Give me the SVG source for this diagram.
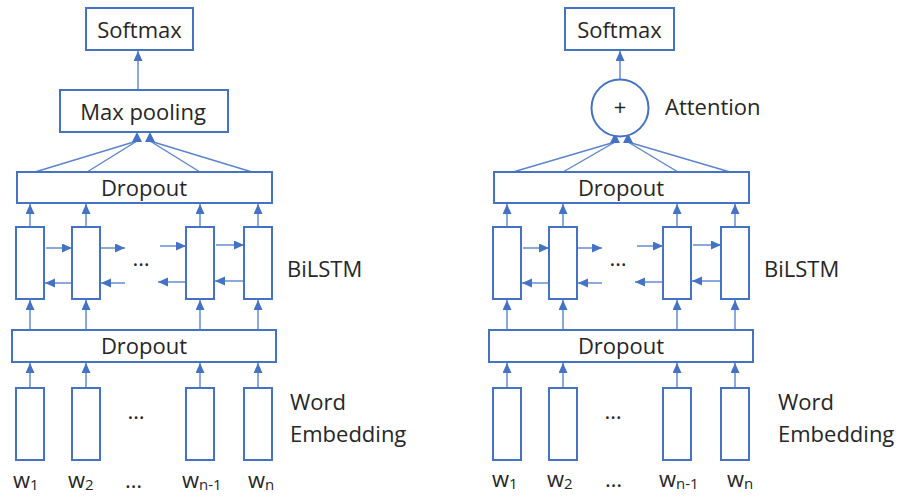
<svg xmlns="http://www.w3.org/2000/svg" width="898" height="499" viewBox="0 0 898 499">
<style>
.box{fill:#fff;stroke:#4472C4;stroke-width:2}
.cell{fill:#fff;stroke:#4472C4;stroke-width:2}
.c{stroke:#5B84CE;stroke-width:1.4;fill:none}
.a{marker-end:url(#ah)}
.hd{fill:#4472C4}
text{font-family:"Open Sans","Liberation Sans",sans-serif;font-size:22px;fill:#262626}
.m{text-anchor:middle}
.sub{font-size:15px}
</style>
<defs>
<marker id="ah" markerUnits="userSpaceOnUse" markerWidth="10" markerHeight="10" refX="10" refY="4.5" orient="auto">
<path d="M0,0 L10,4.5 L0,9 z" fill="#4472C4"/>
</marker>
</defs>
<g id="connectors">
<!-- left panel -->
<line class="c a" x1="138" y1="90" x2="138" y2="51"/>
<line class="c" x1="35" y1="172" x2="137" y2="141"/>
<line class="c" x1="87" y1="172" x2="137" y2="141"/>
<line class="c" x1="200" y1="172" x2="150" y2="141"/>
<line class="c" x1="252" y1="172" x2="150" y2="141"/>
<polygon class="hd" points="132,142 142,142 137,132"/>
<polygon class="hd" points="145,142 155,142 150,132"/>
<line class="c a" x1="30" y1="227" x2="30" y2="204"/>
<line class="c a" x1="86" y1="227" x2="86" y2="204"/>
<line class="c a" x1="200" y1="227" x2="200" y2="204"/>
<line class="c a" x1="258" y1="227" x2="258" y2="204"/>
<line class="c a" x1="46" y1="248" x2="72" y2="248"/>
<line class="c a" x1="101" y1="248" x2="125" y2="248"/>
<line class="c a" x1="160" y1="246" x2="186" y2="246"/>
<line class="c a" x1="216" y1="245" x2="244" y2="245"/>
<line class="c a" x1="72" y1="283" x2="45" y2="283"/>
<line class="c a" x1="125" y1="283" x2="101" y2="283"/>
<line class="c a" x1="186" y1="282" x2="158" y2="282"/>
<line class="c a" x1="244" y1="281" x2="215" y2="281"/>
<line class="c a" x1="30" y1="330" x2="30" y2="300"/>
<line class="c a" x1="86" y1="330" x2="86" y2="300"/>
<line class="c a" x1="200" y1="330" x2="200" y2="300"/>
<line class="c a" x1="258" y1="330" x2="258" y2="300"/>
<line class="c a" x1="30" y1="388" x2="30" y2="363"/>
<line class="c a" x1="86" y1="388" x2="86" y2="363"/>
<line class="c a" x1="200" y1="388" x2="200" y2="363"/>
<line class="c a" x1="258" y1="388" x2="258" y2="363"/>
<!-- right panel -->
<line class="c a" x1="620" y1="79" x2="620" y2="51"/>
<line class="c" x1="513" y1="172" x2="615" y2="142"/>
<line class="c" x1="563" y1="172" x2="615" y2="142"/>
<line class="c" x1="678" y1="172" x2="628" y2="142"/>
<line class="c" x1="730" y1="172" x2="628" y2="142"/>
<polygon class="hd" points="610,143 620,143 615,133"/>
<polygon class="hd" points="623,143 633,143 628,133"/>
<line class="c a" x1="507" y1="227" x2="507" y2="204"/>
<line class="c a" x1="563" y1="227" x2="563" y2="204"/>
<line class="c a" x1="677" y1="227" x2="677" y2="204"/>
<line class="c a" x1="735" y1="227" x2="735" y2="204"/>
<line class="c a" x1="523" y1="248" x2="549" y2="248"/>
<line class="c a" x1="578" y1="248" x2="602" y2="248"/>
<line class="c a" x1="637" y1="246" x2="663" y2="246"/>
<line class="c a" x1="693" y1="245" x2="721" y2="245"/>
<line class="c a" x1="549" y1="283" x2="522" y2="283"/>
<line class="c a" x1="602" y1="283" x2="578" y2="283"/>
<line class="c a" x1="663" y1="282" x2="635" y2="282"/>
<line class="c a" x1="721" y1="281" x2="692" y2="281"/>
<line class="c a" x1="507" y1="330" x2="507" y2="300"/>
<line class="c a" x1="563" y1="330" x2="563" y2="300"/>
<line class="c a" x1="677" y1="330" x2="677" y2="300"/>
<line class="c a" x1="735" y1="330" x2="735" y2="300"/>
<line class="c a" x1="507" y1="388" x2="507" y2="363"/>
<line class="c a" x1="563" y1="388" x2="563" y2="363"/>
<line class="c a" x1="677" y1="388" x2="677" y2="363"/>
<line class="c a" x1="735" y1="388" x2="735" y2="363"/>
</g>
<!-- left panel nodes -->
<g id="softmax-left"><rect class="box" x="86" y="8" width="107" height="42"/><text class="m" x="139.5" y="38">Softmax</text></g>
<g id="maxpool"><rect class="box" x="60" y="90" width="168" height="42"/><text class="m" x="143" y="120">Max pooling</text></g>
<g id="dropout-top-left"><rect class="box" x="17" y="172" width="255" height="31"/><text class="m" x="144" y="196">Dropout</text></g>
<g id="lstm-left-1"><rect class="cell" x="16" y="227" width="28" height="72"/></g>
<g id="lstm-left-2"><rect class="cell" x="72" y="227" width="28" height="72"/></g>
<g id="lstm-left-3"><rect class="cell" x="186" y="227" width="28" height="72"/></g>
<g id="lstm-left-4"><rect class="cell" x="244" y="227" width="28" height="72"/></g>
<g id="lstm-left-dots"><text class="m" x="141" y="266">…</text></g>
<g id="bilstm-left-label"><text x="287" y="277">BiLSTM</text></g>
<g id="dropout-bottom-left"><rect class="box" x="12" y="330" width="264" height="32"/><text class="m" x="144" y="354">Dropout</text></g>
<g id="emb-left-1"><rect class="cell" x="16" y="388" width="28" height="72"/></g>
<g id="emb-left-2"><rect class="cell" x="72" y="388" width="28" height="72"/></g>
<g id="emb-left-3"><rect class="cell" x="186" y="388" width="28" height="72"/></g>
<g id="emb-left-4"><rect class="cell" x="244" y="388" width="28" height="72"/></g>
<g id="emb-left-dots"><text class="m" x="136" y="419">…</text></g>
<g id="emb-left-label"><text x="290" y="410">Word</text><text x="290" y="442">Embedding</text></g>
<g id="words-left">
<text x="13" y="488">w<tspan class="sub" dy="2">1</tspan></text>
<text x="68" y="488">w<tspan class="sub" dy="2">2</tspan></text>
<text x="125" y="488">…</text>
<text x="182" y="488">w<tspan class="sub" dy="2">n-1</tspan></text>
<text x="248" y="488">w<tspan class="sub" dy="2">n</tspan></text>
</g>
<!-- right panel nodes -->
<g id="softmax-right"><rect class="box" x="565" y="8" width="109" height="42"/><text class="m" x="619.5" y="38">Softmax</text></g>
<g id="attention"><circle class="box" cx="620" cy="108" r="28.5"/><text class="m" x="620" y="115">+</text><text x="665" y="115">Attention</text></g>
<g id="dropout-top-right"><rect class="box" x="494" y="172" width="255" height="31"/><text class="m" x="621" y="196">Dropout</text></g>
<g id="lstm-right-1"><rect class="cell" x="493" y="227" width="28" height="72"/></g>
<g id="lstm-right-2"><rect class="cell" x="549" y="227" width="28" height="72"/></g>
<g id="lstm-right-3"><rect class="cell" x="663" y="227" width="28" height="72"/></g>
<g id="lstm-right-4"><rect class="cell" x="721" y="227" width="28" height="72"/></g>
<g id="lstm-right-dots"><text class="m" x="618" y="266">…</text></g>
<g id="bilstm-right-label"><text x="764" y="277">BiLSTM</text></g>
<g id="dropout-bottom-right"><rect class="box" x="489" y="330" width="264" height="32"/><text class="m" x="621" y="354">Dropout</text></g>
<g id="emb-right-1"><rect class="cell" x="493" y="388" width="28" height="72"/></g>
<g id="emb-right-2"><rect class="cell" x="549" y="388" width="28" height="72"/></g>
<g id="emb-right-3"><rect class="cell" x="663" y="388" width="28" height="72"/></g>
<g id="emb-right-4"><rect class="cell" x="721" y="388" width="28" height="72"/></g>
<g id="emb-right-dots"><text class="m" x="613" y="419">…</text></g>
<g id="emb-right-label"><text x="778" y="410">Word</text><text x="778" y="442">Embedding</text></g>
<g id="words-right">
<text x="492" y="487">w<tspan class="sub" dy="2">1</tspan></text>
<text x="547" y="487">w<tspan class="sub" dy="2">2</tspan></text>
<text x="605" y="487">…</text>
<text x="659" y="487">w<tspan class="sub" dy="2">n-1</tspan></text>
<text x="727" y="487">w<tspan class="sub" dy="2">n</tspan></text>
</g>
</svg>
